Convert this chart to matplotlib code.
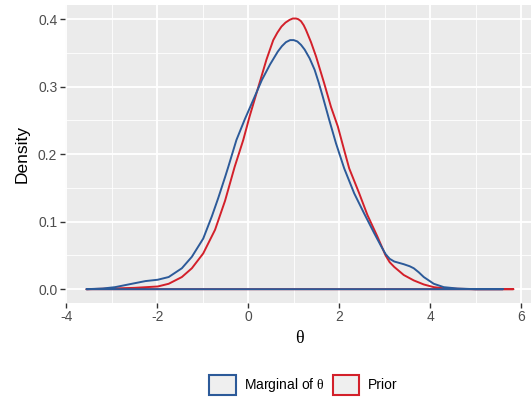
import numpy as np
import matplotlib
matplotlib.use("Agg")
from matplotlib import pyplot as plt
from matplotlib.patches import Patch
from matplotlib.ticker import MultipleLocator

plt.rcParams['font.family'] = ['Liberation Sans', 'DejaVu Sans']
plt.rcParams['mathtext.fontset'] = 'custom'
plt.rcParams['mathtext.rm'] = 'Liberation Serif'

# density estimates (theta, density)
marg_x = [-3.56, -3.2, -2.93, -2.56, -2.26, -1.99, -1.75, -1.46, -1.24, -0.99,
          -0.80, -0.66, -0.51, -0.44, -0.26, -0.08, 0.14, 0.30, 0.48, 0.65,
          0.74, 0.83, 0.92, 1.00, 1.08, 1.16, 1.24, 1.35, 1.46, 1.55,
          1.64, 1.78, 1.93, 2.11, 2.33, 2.55, 2.77, 2.92, 3.02, 3.11,
          3.21, 3.42, 3.55, 3.64, 3.75, 3.86, 4.08, 4.30, 4.60, 5.0, 5.6]
marg_y = [0.000, 0.001, 0.003, 0.008, 0.012, 0.014, 0.018, 0.031, 0.048, 0.075,
          0.108, 0.135, 0.166, 0.181, 0.221, 0.251, 0.285, 0.310, 0.333, 0.352,
          0.360, 0.366, 0.369, 0.369, 0.367, 0.362, 0.355, 0.342, 0.325, 0.306,
          0.285, 0.251, 0.216, 0.179, 0.142, 0.112, 0.083, 0.064, 0.052, 0.045,
          0.041, 0.037, 0.034, 0.031, 0.025, 0.018, 0.008, 0.003, 0.001, 0.000,
          0.000]

prior_x = [-3.56, -3.0, -2.5, -1.99, -1.75, -1.46, -1.24, -0.99, -0.73, -0.51,
           -0.30, -0.11, 0.03, 0.18, 0.40, 0.55, 0.64, 0.73, 0.82, 0.91,
           0.98, 1.05, 1.10, 1.16, 1.22, 1.27, 1.38, 1.49, 1.67, 1.82,
           1.97, 2.11, 2.22, 2.44, 2.62, 2.84, 3.02, 3.11, 3.21, 3.42,
           3.64, 3.86, 4.08, 4.35, 5.0, 5.83]
prior_y = [0.000, 0.001, 0.002, 0.004, 0.008, 0.018, 0.031, 0.053, 0.088, 0.131,
           0.181, 0.221, 0.256, 0.290, 0.340, 0.369, 0.380, 0.389, 0.395, 0.399,
           0.401, 0.401, 0.400, 0.397, 0.391, 0.384, 0.366, 0.345, 0.305, 0.270,
           0.241, 0.206, 0.179, 0.142, 0.110, 0.078, 0.050, 0.040, 0.033, 0.021,
           0.013, 0.007, 0.003, 0.001, 0.000, 0.000]

labels = ['Marginal of $\\mathrm{\\theta}$', 'Prior']
blue = '#2C5A99'
red = '#D3202A'

fig = plt.figure(figsize=(5.31, 4.07), dpi=100)
ax = fig.add_axes([0.1224, 0.2563, 0.8846, 0.7314])
ax.set_facecolor('#EBEBEB')

# closed outlines, like geom_density
ax.fill(prior_x, prior_y, facecolor='none', edgecolor=red, lw=1.4,
        joinstyle='round')
ax.fill(marg_x, marg_y, facecolor='none', edgecolor=blue, lw=1.4,
        joinstyle='round')

ax.set_xlim(-4.03, 6.3)
ax.set_ylim(-0.020, 0.421)
ax.xaxis.set_major_locator(MultipleLocator(2))
ax.xaxis.set_minor_locator(MultipleLocator(1))
ax.yaxis.set_major_locator(MultipleLocator(0.1))
ax.yaxis.set_minor_locator(MultipleLocator(0.05))
ax.xaxis.set_major_formatter(lambda v, p: '%g' % v)
ax.yaxis.set_major_formatter(lambda v, p: '%.1f' % v)
ax.grid(which='major', color='white', lw=1.3)
ax.grid(which='minor', color='white', lw=0.6)
ax.set_axisbelow(True)
for s in ax.spines.values():
    s.set_visible(False)
ax.tick_params(which='major', length=3.5, width=1, color='#333333',
               labelsize=10, labelcolor='#4D4D4D', pad=2)
ax.tick_params(which='minor', length=0)

ax.set_xlabel('θ', family=['Liberation Serif'], fontsize=13, labelpad=4)
ax.set_ylabel('Density', fontsize=12.5, labelpad=6)

handles = [Patch(facecolor='#EFEFEF', edgecolor=blue, lw=1.5),
           Patch(facecolor='#EFEFEF', edgecolor=red, lw=1.5)]
fig.legend(handles, labels, loc='center', bbox_to_anchor=(0.571, 0.054),
           ncol=2, frameon=False, fontsize=10, handlelength=1.9,
           handleheight=1.9, handletextpad=0.6, columnspacing=0.6)

plt.savefig('out.png', dpi=100)
